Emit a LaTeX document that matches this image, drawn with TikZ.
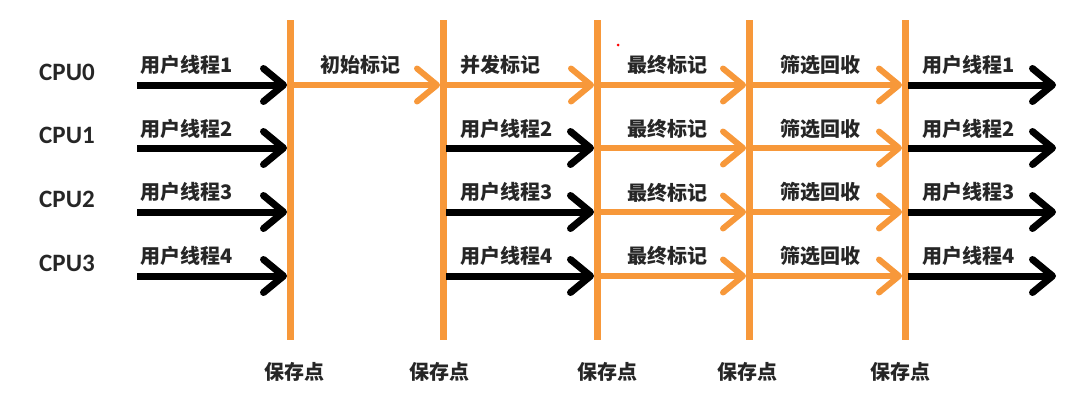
\documentclass[tikz,border=0pt]{standalone}
\usepackage{fontspec}
\setmainfont{Carlito}
\newfontfamily\cjk{Noto Sans CJK SC}
\newfontfamily\latn{Carlito}
\usetikzlibrary{arrows.meta}
\definecolor{orng}{RGB}{247,152,58}
\tikzset{
  vline/.style={orng, line width=7pt},
  blk/.style={black, line width=7pt, -{Straight Barb[length=20pt,width=33pt,round]}},
  org/.style={orng, line width=6pt, -{Straight Barb[length=20pt,width=33pt,round]}},
  lbl/.style={anchor=west, inner sep=0pt, font=\cjk\bfseries\fontsize{20}{20}\selectfont, text=black!85},
  cpu/.style={inner sep=0pt, font=\latn\bfseries\fontsize{25}{25}\selectfont, text=black!85},
  save/.style={inner sep=0pt, font=\cjk\bfseries\fontsize{20}{20}\selectfont, text=black!85},
}
\begin{document}
\begin{tikzpicture}[x=1pt,y=-1pt]
\useasboundingbox (0,0) rectangle (1091,418);
% vertical save-point lines
\foreach \i/\x in {1/290,2/443,3/597,4/749,5/905}{
  \coordinate (t\i) at (\x,20);
  \coordinate (b\i) at (\x,340);
  \draw[vline] (t\i) -- (b\i);
}
% rows
\foreach \r/\y in {0/85,1/148,2/212,3/276}{
  \coordinate (s\r) at (137,\y);
  \coordinate (e\r) at (1056,\y);
  \foreach \i/\x in {1/290,2/443,3/597,4/749,5/905}{
    \coordinate (p\i-\r) at (\x,\y);
  }
  \node[cpu] (cpu\r) at (67,\y-13) {CPU\r};
}
% column 1: user threads
\foreach \r/\n in {0/1,1/2,2/3,3/4}{
  \draw[blk, shorten >=3pt] (s\r) -- (p1-\r);
  \node[lbl] (ua\r) at (140,{85+63.7*\r-20}) {用户线程\n};
}
% column 2: initial mark
\draw[org, shorten <=3pt, shorten >=3pt] (p1-0) -- (p2-0);
\node[lbl] (im) at (320,65) {初始标记};
% column 3
\draw[org, shorten <=3pt, shorten >=3pt] (p2-0) -- (p3-0);
\node[lbl] (cm) at (460,65) {并发标记};
\foreach \r/\n in {1/2,2/3,3/4}{
  \draw[blk, shorten <=3pt, shorten >=3pt] (p2-\r) -- (p3-\r);
  \node[lbl] (ub\r) at (460,{85+63.7*\r-20}) {用户线程\n};
}
% column 4 and 5
\foreach \r in {0,1,2,3}{
  \draw[org, shorten <=3pt, shorten >=3pt] (p3-\r) -- (p4-\r);
  \node[lbl] (fm\r) at (627,{85+63.7*\r-20}) {最终标记};
  \draw[org, shorten <=3pt, shorten >=3pt] (p4-\r) -- (p5-\r);
  \node[lbl] (sc\r) at (780,{85+63.7*\r-20}) {筛选回收};
}
% column 6
\foreach \r/\n in {0/1,1/2,2/3,3/4}{
  \draw[blk, shorten <=3pt] (p5-\r) -- (e\r);
  \node[lbl] (uc\r) at (922,{85+63.7*\r-20}) {用户线程\n};
}
% save points
\foreach \i/\x in {1/294,2/439,3/607,4/747,5/900}{
  \node[save] (sp\i) at (\x,372) {保存点};
}
% small red dot
\fill[red] (618,45) circle (1.5pt);
\end{tikzpicture}
\end{document}
